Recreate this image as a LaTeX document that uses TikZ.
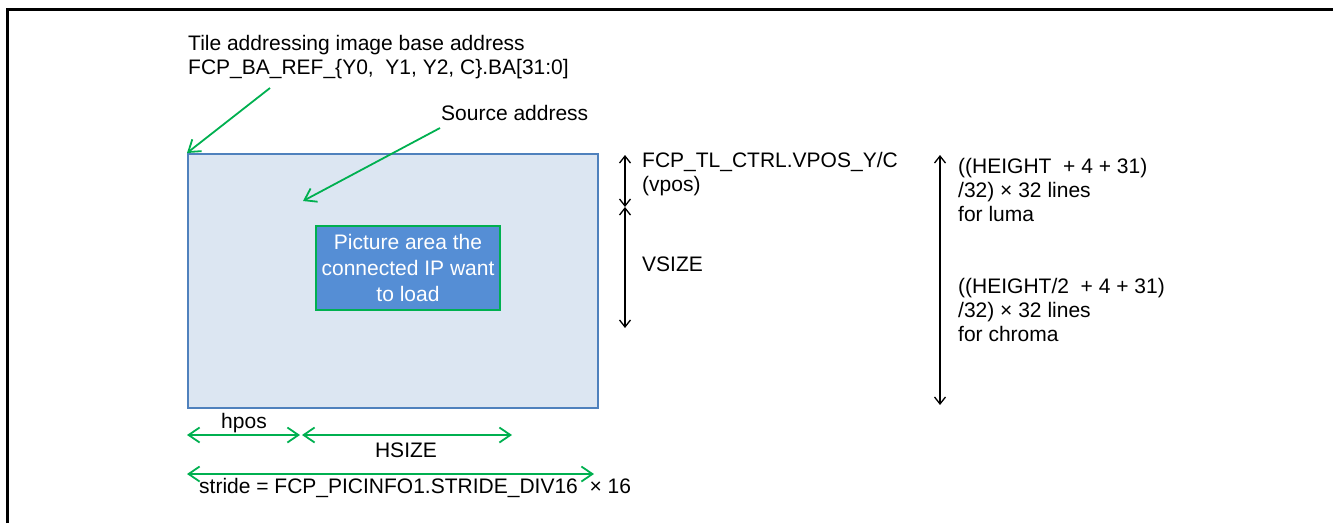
\documentclass[tikz,border=0pt]{standalone}
\usepackage{fontspec}
\setmainfont{Liberation Sans}
\usetikzlibrary{arrows.meta}
\definecolor{pgreen}{HTML}{00B050}
\definecolor{lightfill}{HTML}{DCE6F2}
\definecolor{midblue}{HTML}{558ED5}
\definecolor{edgeblue}{HTML}{4F81BD}
\begin{document}
\begin{tikzpicture}[x=1pt,y=-1pt,
  font=\fontsize{21}{24}\selectfont,
  lbl/.style={inner sep=0pt, anchor=west, align=left},
  gtip/.tip={Straight Barb[length=11pt,width=15pt]},
  btip/.tip={Straight Barb[length=7pt,width=11pt]},
  garrow/.style={draw=pgreen, line width=1.8pt, -gtip},
  gdouble/.style={draw=pgreen, line width=1.8pt, gtip-gtip},
  bdouble/.style={draw=black, line width=1.3pt, btip-btip}]
\useasboundingbox (0,0) rectangle (1333,523);
% outer frame lines
\draw[line width=3pt] (7,523) -- (7,9) -- (1333,9);
% image area
\node[draw=edgeblue, fill=lightfill, line width=1.5pt, minimum width=410pt,
      minimum height=254pt, inner sep=0pt, anchor=north west] (img) at (187,153) {};
\node[draw=pgreen, fill=midblue, line width=2pt, minimum width=184pt,
      minimum height=84pt, inner sep=0pt, anchor=north west, text=white,
      align=center, font=\fontsize{21}{26}\selectfont] (pic) at (315,225)
      {Picture area the\\connected IP want\\to load};
% labels
\node[lbl] (tile) at (188,57) {Tile addressing image base address\\FCP\_BA\_REF\_\{Y0,\ \ Y1, Y2, C\}.BA[31:0]};
\node[lbl] (src) at (441,113) {Source address};
\node[lbl] (vpos) at (642,174) {FCP\_TL\_CTRL.VPOS\_Y/C\\(vpos)};
\node[lbl] (vsize) at (642,264) {VSIZE};
\node[lbl] (luma) at (958,190) {((HEIGHT\ \ + 4 + 31)\\/32) × 32 lines\\for luma};
\node[lbl] (chroma) at (958,310) {((HEIGHT/2\ \ + 4 + 31)\\/32) × 32 lines\\for chroma};
\node[inner sep=0pt] (hpos) at (244,423) {hpos};
\node[inner sep=0pt] (hsize) at (406,450) {HSIZE};
\node[lbl] (stride) at (199,488) {stride = FCP\_PICINFO1.STRIDE\_DIV16\ \ × 16};
% connector points
\coordinate (batail) at (270,88);
\coordinate (srctail) at (440,128);
\coordinate (srchead) at (303,201);
\coordinate (v0) at (625,155);
\coordinate (v1) at (625,207);
\coordinate (v2) at (625,328);
\coordinate (t0) at (940,155);
\coordinate (t1) at (940,405);
\coordinate (h0) at (187,435);
\coordinate (h1) at (300,435);
\coordinate (h2) at (302,435);
\coordinate (h3) at (512,435);
\coordinate (s0) at (187,474);
\coordinate (s1) at (594,474);
% arrows
\draw[garrow] (batail) -- (img.north west);
\draw[garrow] (srctail) -- (srchead);
\draw[bdouble] (v0) -- (v1);
\draw[bdouble] (v1) -- (v2);
\draw[bdouble] (t0) -- (t1);
\draw[gdouble] (h0) -- (h1);
\draw[gdouble] (h2) -- (h3);
\draw[gdouble] (s0) -- (s1);
\end{tikzpicture}
\end{document}
